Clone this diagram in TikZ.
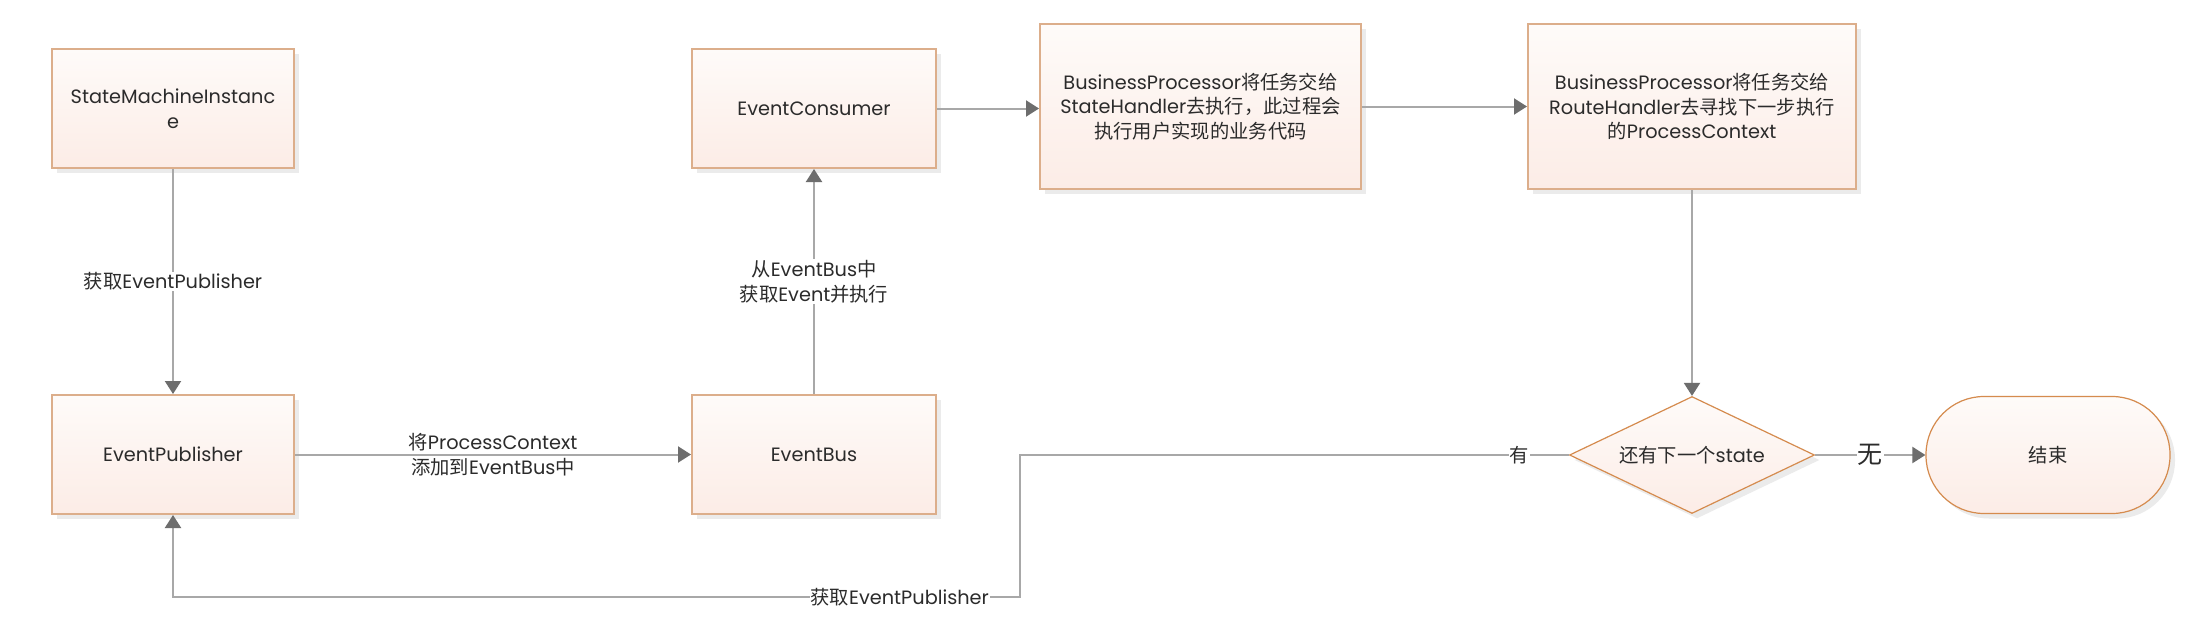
\documentclass[tikz,border=0pt]{standalone}
\usepackage{fontspec}
\setmainfont{Poppins}
\newfontfamily\cjk{Noto Sans CJK SC}
\newcommand{\zh}[1]{{\cjk #1}}
\usetikzlibrary{arrows.meta,shapes.geometric,shadows}
\definecolor{boxborder}{HTML}{DCAE8B}
\definecolor{shapeborder}{HTML}{D58B4E}
\definecolor{filltop}{HTML}{FEFBF9}
\definecolor{fillbot}{HTML}{FCECE6}
\definecolor{shadowgray}{HTML}{EBEBEB}
\definecolor{linegray}{HTML}{A8A8A8}
\definecolor{arrowgray}{HTML}{6D6D6D}
\definecolor{textgray}{HTML}{2B2B2B}
\tikzset{
  basefont/.style={font=\fontsize{19.3}{24.5}\selectfont, text=textgray},
  procbox/.style={basefont, draw=boxborder, line width=2pt, top color=filltop, bottom color=fillbot,
    align=center, inner sep=0pt,
    drop shadow={shadow xshift=5pt, shadow yshift=-5pt, fill=shadowgray, opacity=1}},
  decbox/.style={basefont, diamond, aspect=2.09, draw=shapeborder, line width=1.2pt, top color=filltop, bottom color=fillbot,
    align=center, inner sep=0pt,
    drop shadow={shadow xshift=5pt, shadow yshift=-5pt, fill=shadowgray, opacity=1}},
  termbox/.style={basefont, draw=shapeborder, line width=1.2pt, top color=filltop, bottom color=fillbot,
    rounded corners=58pt, align=center, inner sep=0pt,
    drop shadow={shadow xshift=5pt, shadow yshift=-5pt, fill=shadowgray, opacity=1}},
  conn/.style={draw=linegray, line width=2pt, -{Triangle[length=13pt,width=16pt,color=arrowgray]}},
  lbl/.style={basefont, fill=white, inner sep=1pt, align=center},
  lblclear/.style={basefont, inner sep=1pt, align=center},
}
\begin{document}
\begin{tikzpicture}[x=1pt,y=-1pt]
\useasboundingbox[fill=white] (0,0) rectangle (2198,626);
\node[procbox, minimum width=242pt, minimum height=119pt] (smi) at (173,108.5) {StateMachineInstanc\\e};
\node[procbox, minimum width=242pt, minimum height=119pt] (ep) at (173,454.5) {EventPublisher};
\node[procbox, minimum width=244pt, minimum height=119pt] (eb) at (814,454.5) {EventBus};
\node[procbox, minimum width=244pt, minimum height=119pt] (ec) at (814,108.5) {EventConsumer};
\node[procbox, minimum width=321pt, minimum height=165pt] (bp1) at (1200.5,106.5)
  {BusinessProcessor\zh{将任务交给}\\StateHandler\zh{去执行，此过程会}\\\zh{执行用户实现的业务代码}};
\node[procbox, minimum width=328pt, minimum height=165pt] (bp2) at (1692,106.5)
  {BusinessProcessor\zh{将任务交给}\\RouteHandler\zh{去寻找下一步执行}\\\zh{的}ProcessContext};
\node[decbox, minimum width=245pt, minimum height=117pt] (dia) at (1692,455) {\zh{还有下一个}state};
\node[termbox, minimum width=244pt, minimum height=117pt] (end) at (2048,455) {\zh{结束}};
\coordinate (k1) at (1020,455);
\coordinate (k2) at (1020,597);
\draw[conn] (smi) -- node[lbl]{\zh{获取}EventPublisher} (ep);
\draw[conn] (ep) -- node[lblclear]{\zh{将}ProcessContext\\\zh{添加到}EventBus\zh{中}} (eb);
\draw[conn] (eb) -- node[lbl]{\zh{从}EventBus\zh{中}\\\zh{获取}Event\zh{并执行}} (ec);
\draw[conn] (ec.east) -- (ec.east -| bp1.west);
\draw[conn] (bp1.east) -- (bp1.east -| bp2.west);
\draw[conn] (bp2) -- (dia);
\draw[conn] (dia) -- node[lbl, font=\fontsize{25}{28}\selectfont]{\zh{无}} (end);
\draw[conn] (dia.west) -- node[lbl, pos=0.09]{\zh{有}} (k1) -- (k2)
  -- node[lbl, pos=0.142]{\zh{获取}EventPublisher} (k2 -| ep.south) -- (ep.south);
\end{tikzpicture}
\end{document}
